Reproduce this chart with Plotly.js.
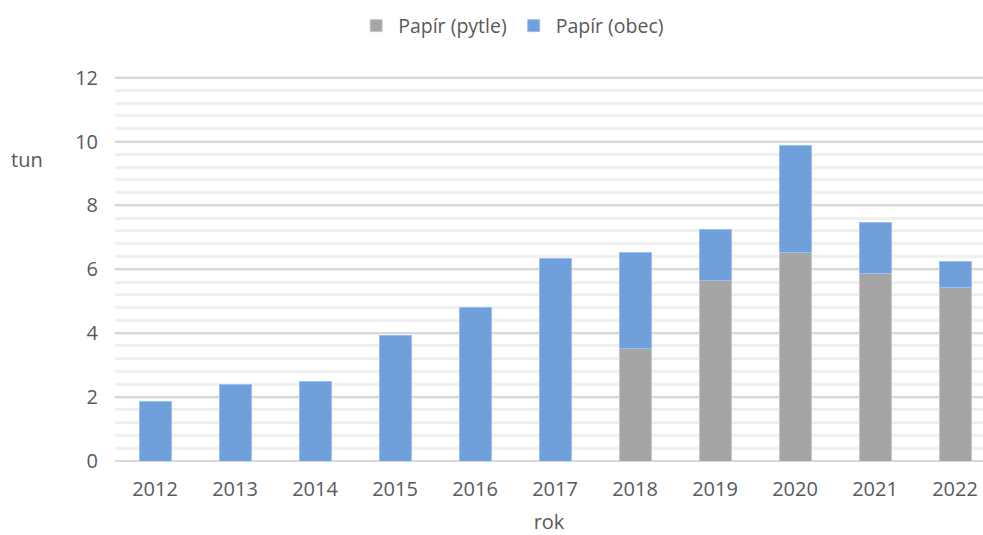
<!DOCTYPE html>
<html><head><meta charset="utf-8">
<script src="https://cdn.plot.ly/plotly-3.0.1.min.js"></script>
<style>body{margin:0;background:#fff}#c{width:983px;height:535px}</style>
</head><body><div id="c"></div>
<script>
const years = ['2012','2013','2014','2015','2016','2017','2018','2019','2020','2021','2022'];
const pytle = [0,0,0,0,0,0,3.52,5.66,6.54,5.88,5.44];
const obec = [1.87,2.41,2.48,3.92,4.80,6.33,3.01,1.60,3.35,1.57,0.79];
const seriesNames = ['Papír (pytle)','Papír (obec)'];
const yTicks = [0,2,4,6,8,10,12];

const fs = 20;
const font = {family:'Open Sans, Lato, sans-serif', color:'#595959', size:fs};
const traces = [
  {type:'bar', x:years, y:pytle, name:seriesNames[0], marker:{color:'#a5a5a5', line:{color:'#c8c8c8', width:1}}, width:0.4},
  {type:'bar', x:years, y:obec, name:seriesNames[1], marker:{color:'#70a0db', line:{color:'#9cc0ec', width:1}}, width:0.4}
];
const layout = {
  barmode:'stack',
  width:983, height:535,
  margin:{l:115, r:0, t:76, b:74},
  paper_bgcolor:'#fff', plot_bgcolor:'#fff',
  font:font,
  showlegend:true,
  legend:{orientation:'h', x:0.457, xanchor:'center', y:1.13, yanchor:'middle', font:{size:19.5, color:'#595959'}, traceorder:'normal', itemwidth:34, tracegroupgap:0},
  xaxis:{type:'category', range:[-0.5,10.35], tickfont:{size:fs,color:'#595959'}, showgrid:false, zeroline:false, showline:false, ticks:'', ticklabelstandoff:14,
    title:{text:'rok', font:{size:fs,color:'#595959'}, standoff:24}},
  yaxis:{range:[0,12.05], tickvals:yTicks, ticktext:yTicks.map(String), tickfont:{size:fs,color:'#595959'}, showgrid:true, gridcolor:'#d9d9d9', gridwidth:1.5,
    minor:{dtick:0.4, tick0:0, showgrid:true, gridcolor:'#f0f0f0', gridwidth:2.5},
    zeroline:true, zerolinecolor:'#d9d9d9', zerolinewidth:1.5, showline:false, ticks:'', ticklabelstandoff:16},
  annotations:[{text:'tun', xref:'paper', yref:'paper', x:-0.122, y:0.782, showarrow:false, xanchor:'left', yanchor:'middle', font:{size:fs,color:'#595959'}}]
};
Plotly.newPlot('c', traces, layout, {displayModeBar:false});
</script></body></html>
